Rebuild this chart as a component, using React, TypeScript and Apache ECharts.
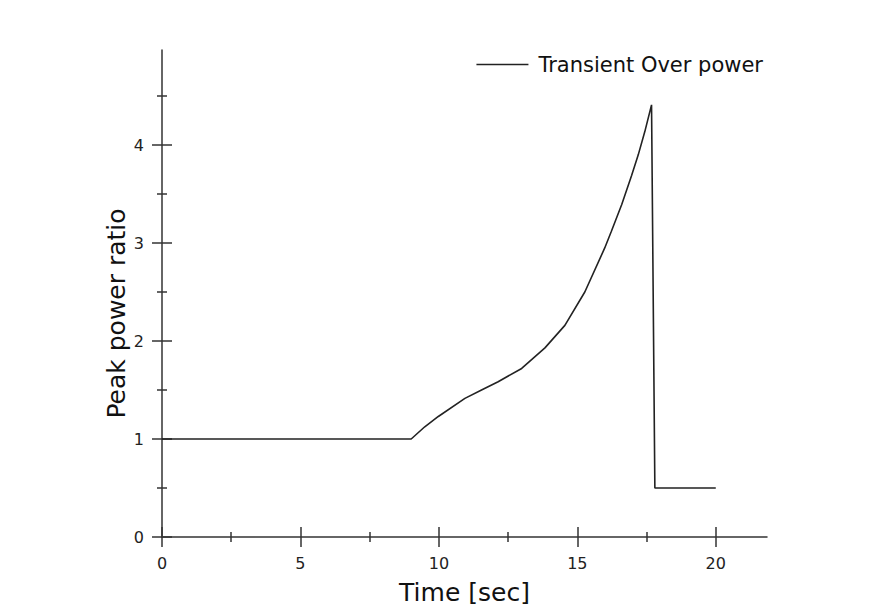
import React, { useEffect, useRef } from "react";
import * as echarts from "echarts";

const timeSec = [0, 9, 9.49, 9.98, 10.94, 11.54, 12.14, 12.99, 13.83, 14.55, 15.27, 15.99, 16.23, 16.6, 16.96, 17.2, 17.44, 17.68, 17.8, 20];
const peakRatio = [1, 1, 1.125, 1.23, 1.415, 1.5, 1.585, 1.72, 1.93, 2.16, 2.5, 2.95, 3.12, 3.39, 3.69, 3.9, 4.14, 4.41, 0.5, 0.5];
const xMajorTicks = [0, 5, 10, 15, 20];
const xMinorTicks = [2.5, 7.5, 12.5, 17.5];
const yMajorTicks = [0, 1, 2, 3, 4];
const yMinorTicks = [0.5, 1.5, 2.5, 3.5, 4.5];
const seriesName = "Transient Over power";

const FONT = "DejaVu Sans";
const AXIS_COLOR = "#333333";

export default function App() {
  const ref = useRef<HTMLDivElement>(null);
  useEffect(() => {
    if (!ref.current) return;
    const chart = echarts.init(ref.current, undefined, { renderer: "svg" });
    const xBase = { type: "value", min: 0, max: 21.85, position: "bottom", splitLine: { show: false } };
    const yBase = { type: "value", min: 0, max: 4.97, position: "left", splitLine: { show: false } };
    const tickLine = { color: AXIS_COLOR, width: 1.5 };
    chart.setOption({
      animation: false,
      backgroundColor: "#ffffff",
      grid: { left: 162, right: 113, top: 50, bottom: 78 },
      legend: {
        right: 112,
        top: 49,
        icon: "rect",
        itemWidth: 52,
        itemHeight: 1.5,
        textStyle: { fontFamily: FONT, fontSize: 21, color: "#111", padding: [0, 0, 0, 5] },
        data: [seriesName],
      },
      xAxis: [
        {
          ...xBase,
          axisLine: { show: true, lineStyle: { color: AXIS_COLOR, width: 1.5 } },
          axisTick: { show: false },
          axisLabel: {
            customValues: xMajorTicks,
            margin: 18,
            fontFamily: FONT,
            fontSize: 16,
            color: "#222",
          },
          name: "Time [sec]",
          nameLocation: "middle",
          nameGap: 43,
          nameMoveOverlap: false,
          nameTextStyle: { fontFamily: FONT, fontSize: 25, color: "#111" },
        },
        {
          ...xBase,
          offset: -10,
          axisLine: { show: false },
          axisLabel: { show: false },
          axisTick: { show: true, inside: false, length: 20, customValues: xMajorTicks, lineStyle: tickLine },
        },
        {
          ...xBase,
          offset: -5,
          axisLine: { show: false },
          axisLabel: { show: false },
          axisTick: { show: true, inside: false, length: 10, customValues: xMinorTicks, lineStyle: tickLine },
        },
      ],
      yAxis: [
        {
          ...yBase,
          axisLine: { show: true, lineStyle: { color: AXIS_COLOR, width: 1.5 } },
          axisTick: { show: false },
          axisLabel: {
            customValues: yMajorTicks,
            margin: 18,
            fontFamily: FONT,
            fontSize: 16,
            color: "#222",
          },
          name: "Peak power ratio",
          nameLocation: "middle",
          nameGap: 33,
          nameMoveOverlap: false,
          nameTextStyle: { fontFamily: FONT, fontSize: 25, color: "#111", padding: [0, 40, 0, 0] },
        },
        {
          ...yBase,
          offset: -10,
          axisLine: { show: false },
          axisLabel: { show: false },
          axisTick: { show: true, inside: false, length: 20, customValues: yMajorTicks, lineStyle: tickLine },
        },
        {
          ...yBase,
          offset: -5,
          axisLine: { show: false },
          axisLabel: { show: false },
          axisTick: { show: true, inside: false, length: 10, customValues: yMinorTicks, lineStyle: tickLine },
        },
      ],
      series: [
        {
          name: seriesName,
          type: "line",
          xAxisIndex: 0,
          yAxisIndex: 0,
          symbol: "none",
          data: timeSec.map((t, i) => [t, peakRatio[i]]),
          lineStyle: { color: "#222222", width: 1.6 },
          itemStyle: { color: "#222222" },
        },
      ],
    });
    return () => chart.dispose();
  }, []);
  return (
    <div
      ref={ref}
      style={{ position: "absolute", left: 0, top: 0, width: 880, height: 615, background: "#fff" }}
    />
  );
}
